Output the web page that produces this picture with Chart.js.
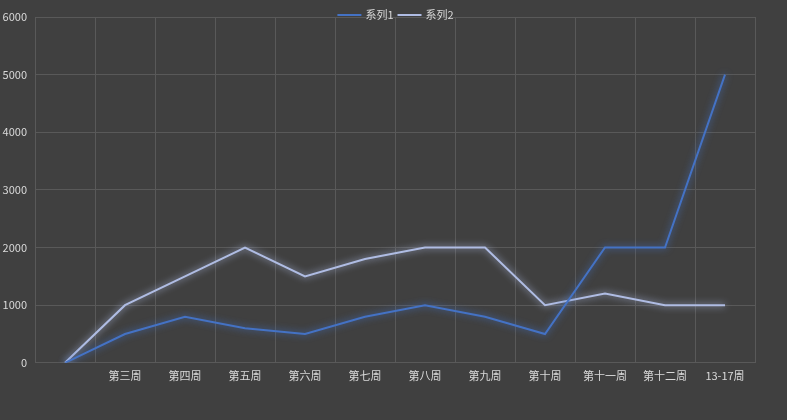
<!DOCTYPE html>
<html>
<head>
<meta charset="utf-8">
<script src="https://cdn.jsdelivr.net/npm/chart.js@4"></script>
<style>
  html, body { margin: 0; padding: 0; background: #404040; }
  #wrap { width: 787px; height: 420px; }
</style>
</head>
<body>
<div id="wrap"><canvas id="c" width="787" height="420"></canvas></div>
<script>
// ---------------- Data ----------------
const weeks = ["", "第三周", "第四周", "第五周", "第六周", "第七周", "第八周", "第九周", "第十周", "第十一周", "第十二周", "13-17周"];
const series1 = [0, 500, 800, 600, 500, 800, 1000, 800, 500, 2000, 2000, 5000];
const series2 = [0, 1000, 1500, 2000, 1500, 1800, 2000, 2000, 1000, 1200, 1000, 1000];
const yTicks = [0, 1000, 2000, 3000, 4000, 5000, 6000];

const FONT = "'Noto Sans CJK SC', 'Noto Sans', sans-serif";
const TEXT = "#d9d9d9";
const GRID = "#595959";

// soft glow under each line
const glow = {
  id: "glow",
  beforeDatasetDraw(chart, args) {
    const ctx = chart.ctx;
    ctx.save();
    ctx.shadowColor = args.meta.dataset.options.borderColor;
    ctx.shadowBlur = 7;
  },
  afterDatasetDraw(chart) {
    chart.ctx.restore();
  }
};

// legend drawn over the top edge of the plot, like the original
const topLegend = {
  id: "topLegend",
  afterDraw(chart) {
    const ctx = chart.ctx;
    ctx.save();
    ctx.font = "11px " + FONT;
    ctx.textBaseline = "middle";
    const y = 15, lineW = 24, gap = 4, sep = 4;
    const items = chart.data.datasets.map(ds => ({ text: ds.label, color: ds.borderColor, w: ctx.measureText(ds.label).width }));
    const total = items.reduce((s, it) => s + lineW + gap + it.w, 0) + sep * (items.length - 1);
    let x = chart.width / 2 - total / 2 + 2;
    items.forEach(it => {
      ctx.strokeStyle = it.color;
      ctx.lineWidth = 2;
      ctx.beginPath();
      ctx.moveTo(x, y);
      ctx.lineTo(x + lineW, y);
      ctx.stroke();
      x += lineW + gap;
      ctx.fillStyle = TEXT;
      ctx.fillText(it.text, x, y);
      x += it.w + sep;
    });
    ctx.restore();
  }
};

new Chart(document.getElementById("c"), {
  type: "line",
  data: {
    labels: weeks,
    datasets: [
      { label: "系列1", data: series1, borderColor: "#4472C4", backgroundColor: "#4472C4", borderWidth: 2, pointRadius: 0, tension: 0 },
      { label: "系列2", data: series2, borderColor: "#AFBCE3", backgroundColor: "#AFBCE3", borderWidth: 2, pointRadius: 0, tension: 0 }
    ]
  },
  options: {
    responsive: false,
    animation: false,
    layout: { padding: { top: 17, right: 32, bottom: 32, left: 0 } },
    scales: {
      x: {
        offset: true,
        grid: { offset: true, color: GRID, drawTicks: false },
        border: { display: false },
        ticks: { color: TEXT, font: { family: FONT, size: 11 }, padding: 6, maxRotation: 0, autoSkip: false }
      },
      y: {
        min: 0, max: 6000,
        afterBuildTicks: (axis) => { axis.ticks = yTicks.map(v => ({ value: v })); },
        afterFit: (axis) => { axis.width = 35; },
        grid: { color: GRID, drawTicks: false },
        border: { display: false },
        ticks: { color: TEXT, font: { family: FONT, size: 11 }, padding: 8, callback: (v) => String(v) }
      }
    },
    plugins: {
      legend: { display: false },
      tooltip: { enabled: false }
    }
  },
  plugins: [glow, topLegend, {
    id: "bg",
    beforeDraw(chart) {
      const ctx = chart.ctx;
      ctx.save();
      ctx.fillStyle = "#404040";
      ctx.fillRect(0, 0, chart.width, chart.height);
      ctx.restore();
    }
  }]
});
</script>
</body>
</html>
